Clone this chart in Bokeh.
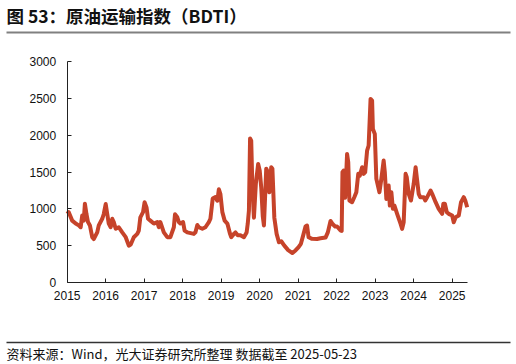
from bokeh.plotting import figure
from bokeh.models import Range1d, FixedTicker, Label, ColumnDataSource, LinearAxis
from bokeh.embed import file_html
from bokeh.resources import INLINE

# ---- data (decimal year, BDTI value) ----
dates_2015 = [2015.00, 2015.04, 2015.13, 2015.22, 2015.30, 2015.35, 2015.39, 2015.43, 2015.46,
              2015.50, 2015.54, 2015.59, 2015.65, 2015.69, 2015.78, 2015.82, 2015.91, 2015.95]
vals_2015 = [932, 955, 840, 800, 775, 750, 910, 840, 1070,
             930, 820, 775, 615, 590, 680, 775, 865, 930]

dates_2016 = [2016.00, 2016.04, 2016.08, 2016.13, 2016.17, 2016.21, 2016.26, 2016.34, 2016.43,
              2016.52, 2016.60, 2016.65, 2016.73, 2016.82, 2016.86, 2016.90, 2016.97]
vals_2016 = [1065, 930, 800, 750, 865, 820, 730, 750, 680,
             615, 500, 515, 615, 660, 705, 885, 955]

dates_2017 = [2017.01, 2017.06, 2017.10, 2017.16, 2017.25, 2017.34, 2017.38, 2017.42,
              2017.51, 2017.60, 2017.68, 2017.77, 2017.80, 2017.86, 2017.90, 2017.94]
vals_2017 = [1090, 1020, 865, 840, 800, 820, 750, 820,
             680, 615, 615, 750, 925, 885, 820, 800]

dates_2018 = [2018.01, 2018.05, 2018.12, 2018.29, 2018.33, 2018.38, 2018.42, 2018.51,
              2018.59, 2018.68, 2018.72, 2018.78, 2018.85, 2018.90, 2018.94, 2018.98]
vals_2018 = [820, 705, 680, 660, 680, 780, 750, 730,
             750, 820, 865, 1140, 1160, 1110, 1265, 1200]

dates_2019 = [2019.03, 2019.09, 2019.16, 2019.23, 2019.26, 2019.33, 2019.37, 2019.43, 2019.50,
              2019.59, 2019.66, 2019.69, 2019.72, 2019.75, 2019.78, 2019.81, 2019.85, 2019.90, 2019.96]
vals_2019 = [955, 840, 800, 660, 615, 660, 680, 640, 640,
             615, 680, 800, 975, 1955, 1925, 1300, 880, 1340, 1610]

dates_2020 = [2020.00, 2020.04, 2020.08, 2020.11, 2020.17, 2020.21, 2020.25, 2020.30, 2020.33,
              2020.38, 2020.44, 2020.50, 2020.56, 2020.64, 2020.74, 2020.85, 2020.93]
vals_2020 = [1520, 1290, 900, 775, 1545, 1500, 1225, 1565, 1545,
             880, 660, 547, 560, 500, 440, 400, 435]

dates_2021 = [2021.01, 2021.07, 2021.13, 2021.19, 2021.23, 2021.27, 2021.36, 2021.49,
              2021.58, 2021.71, 2021.77, 2021.84, 2021.90, 2021.96]
vals_2021 = [480, 525, 640, 760, 773, 615, 593, 590,
             600, 610, 680, 835, 790, 760]

dates_2022 = [2022.01, 2022.10, 2022.13, 2022.15, 2022.18, 2022.22, 2022.25, 2022.27, 2022.30,
              2022.33, 2022.40, 2022.46, 2022.51, 2022.56, 2022.60, 2022.66, 2022.70, 2022.74,
              2022.79, 2022.83, 2022.88, 2022.92, 2022.94, 2022.99]
vals_2022 = [760, 705, 700, 1497, 1520, 1150, 1500, 1745, 1632,
             1113, 1090, 1160, 1225, 1475, 1450, 1565, 1475, 1497,
             1791, 1860, 2492, 2470, 2085, 2017]

dates_2023 = [2023.03, 2023.07, 2023.11, 2023.16, 2023.22, 2023.25, 2023.29, 2023.35, 2023.38,
              2023.42, 2023.46, 2023.50, 2023.57, 2023.66, 2023.70, 2023.74, 2023.79, 2023.82,
              2023.87, 2023.93]
vals_2023 = [1407, 1317, 1225, 1407, 1655, 1497, 1135, 1316, 1045,
             1225, 1000, 1045, 932, 796, 728, 818, 1475, 1430,
             1204, 1113]

dates_2024 = [2024.00, 2024.05, 2024.09, 2024.13, 2024.17, 2024.26, 2024.30, 2024.35, 2024.44,
              2024.48, 2024.57, 2024.65, 2024.74, 2024.77, 2024.81, 2024.86, 2024.91]
vals_2024 = [1339, 1565, 1385, 1204, 1158, 1158, 1113, 1158, 1249,
             1204, 1090, 1000, 932, 1068, 1068, 955, 932]

dates_2025 = [2025.00, 2025.04, 2025.09, 2025.17, 2025.23, 2025.30, 2025.34, 2025.39]
vals_2025 = [909, 818, 886, 909, 1090, 1158, 1113, 1022]

x_ticks = list(range(2015, 2026))
y_ticks = [0, 500, 1000, 1500, 2000, 2500, 3000]
title_text = "图 53：原油运输指数（BDTI）"
source_text = "资料来源：Wind，光大证券研究所整理 数据截至 2025-05-23"

dates = (dates_2015 + dates_2016 + dates_2017 + dates_2018 + dates_2019 + dates_2020 +
         dates_2021 + dates_2022 + dates_2023 + dates_2024 + dates_2025)
vals = (vals_2015 + vals_2016 + vals_2017 + vals_2018 + vals_2019 + vals_2020 +
        vals_2021 + vals_2022 + vals_2023 + vals_2024 + vals_2025)

src = ColumnDataSource(dict(x=dates, y=vals))

# ---- layout geometry (pixels) ----
W, H = 516, 364
AX_L, AX_R = 66.7, 466.7       # x pixel of 2015 and of the last date
AX_T, AX_B = 61.0, 282.0       # y pixel of 3000 and of 0
X_MIN, X_MAX = 2015.0, 2025.39
Y_MIN, Y_MAX = 0.0, 3000.0

ppx = (AX_R - AX_L) / (X_MAX - X_MIN)
ppy = (AX_B - AX_T) / (Y_MAX - Y_MIN)
xr = Range1d(X_MIN - AX_L / ppx, X_MIN + (W - AX_L) / ppx)
yr = Range1d(Y_MIN - (H - AX_B) / ppy, Y_MAX + AX_T / ppy)

p = figure(width=W, height=H, output_backend="svg", toolbar_location=None,
           x_range=xr, y_range=yr, title=None,
           x_axis_location=None, y_axis_location=None,
           min_border_left=0, min_border_right=0, min_border_top=0, min_border_bottom=0)
p.extra_x_ranges = {"px": Range1d(0, W)}
p.extra_y_ranges = {"px": Range1d(H, 0)}

p.xgrid.grid_line_color = None
p.ygrid.grid_line_color = None
p.outline_line_color = None
p.background_fill_color = "white"
p.border_fill_color = "white"

xaxis = LinearAxis(fixed_location=Y_MIN, bounds=(X_MIN, X_MAX), ticker=FixedTicker(ticks=x_ticks))
yaxis = LinearAxis(fixed_location=X_MIN, bounds=(Y_MIN, Y_MAX), ticker=FixedTicker(ticks=y_ticks))
for ax in (xaxis, yaxis):
    ax.axis_line_color = "#222222"
    ax.axis_line_width = 1
    ax.major_tick_line_color = "#222222"
    ax.major_tick_in = 4
    ax.major_tick_out = 0
    ax.minor_tick_line_color = None
    ax.major_label_text_font = "Liberation Sans"
    ax.major_label_text_font_size = "12px"
    ax.major_label_text_color = "#111111"
xaxis.major_label_standoff = 8
yaxis.major_label_standoff = 11
p.add_layout(xaxis, "below")
p.add_layout(yaxis, "left")

p.line("x", "y", source=src, line_color="#C6432A", line_width=4, line_join="round")

# ---- header ----
p.add_layout(Label(x=6, y=15, x_range_name="px", y_range_name="px", text=title_text,
                   text_font="Noto Sans CJK SC", text_font_style="bold", text_font_size="17.5px",
                   text_color="#111111", text_baseline="middle", text_align="left"))
p.segment(x0=[6], y0=[32], x1=[510], y1=[32], x_range_name="px", y_range_name="px",
          line_color="#808080", line_width=2)

# ---- footer ----
p.segment(x0=[6], y0=[342], x1=[510], y1=[342], x_range_name="px", y_range_name="px",
          line_color="#333333", line_width=1.5)
p.add_layout(Label(x=6, y=353, x_range_name="px", y_range_name="px", text=source_text,
                   text_font="Noto Sans CJK SC", text_font_size="13px",
                   text_color="#111111", text_baseline="middle", text_align="left"))

open("out.html", "w").write(file_html(p, INLINE))
